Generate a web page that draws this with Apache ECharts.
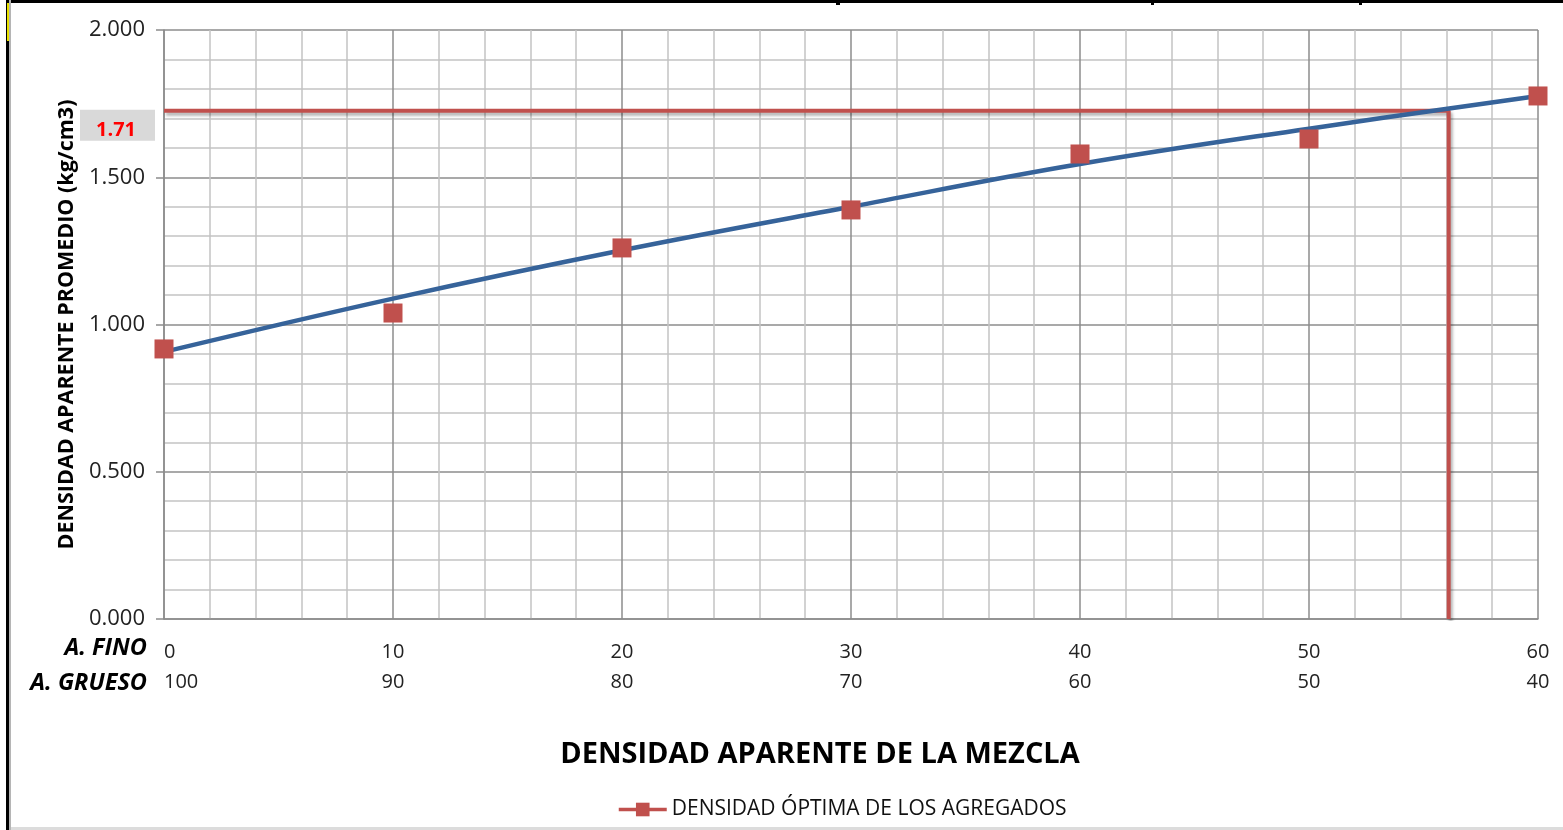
<!DOCTYPE html>
<html>
<head>
<meta charset="utf-8">
<script src="https://cdn.jsdelivr.net/npm/echarts@6/dist/echarts.min.js"></script>
<style>
  html, body { margin: 0; padding: 0; background: #fff; }
  #chart { width: 1563px; height: 830px; }
</style>
</head>
<body>
<div id="chart"></div>
<script>
// porcentajes de la mezcla (eje x, dos filas)
const finoPct = [0, 10, 20, 30, 40, 50, 60]
const gruesoPct = [100, 90, 80, 70, 60, 50, 40]
// densidad aparente promedio medida (kg/cm3)
const densidad = [0.917, 1.039, 1.260, 1.389, 1.579, 1.630, 1.776]
// linea de tendencia (polinomica)
const trendX = [0, 10, 20, 30, 40, 50, 60]
const trendY = [0.907, 1.088, 1.252, 1.400, 1.545, 1.665, 1.776]
// punto optimo
const optimoFino = 56.1
const optimoDens = 1.726
const optimoLabel = '1.71'

const FONT = '"Open Sans", sans-serif'
const RED = '#c0504d'

const chart = echarts.init(document.getElementById('chart'))

const puntos = finoPct.map((x, i) => [x, densidad[i]])
const tendencia = trendX.map((x, i) => [x, trendY[i]])
const optimo = [[0, optimoDens], [optimoFino, optimoDens], [optimoFino, 0]]

chart.setOption({
  animation: false,
  textStyle: { fontFamily: FONT },
  grid: { left: 164, right: 25, top: 30, bottom: 211 },
  title: {
    text: 'DENSIDAD APARENTE DE LA MEZCLA',
    left: 815,
    textAlign: 'center',
    top: 735,
    textStyle: { fontFamily: FONT, fontSize: 29, fontWeight: 'bold', color: '#000' }
  },
  legend: {
    left: 612,
    top: 794,
    itemWidth: 48,
    itemHeight: 17,
    itemGap: 6,
    textStyle: { fontFamily: FONT, fontSize: 21, color: '#111' },
    data: [{
      name: 'DENSIDAD ÓPTIMA DE LOS AGREGADOS',
      lineStyle: { width: 3.5, color: RED, opacity: 1 }
    }]
  },
  xAxis: {
    type: 'value',
    min: 0,
    max: 60,
    interval: 10,
    axisLine: { show: true, lineStyle: { color: '#8c8c8c', width: 1.5 } },
    axisTick: { show: false },
    minorTick: { show: false, splitNumber: 5 },
    splitLine: { show: true, lineStyle: { color: '#8c8c8c', width: 1.5 } },
    minorSplitLine: { show: true, lineStyle: { color: '#c4c4c4', width: 1.5 } },
    axisLabel: {
      margin: 18,
      fontSize: 20,
      lineHeight: 30,
      color: '#222',
      alignMinLabel: 'left',
      formatter: function (v) {
        const i = finoPct.indexOf(v)
        return i < 0 ? '' : finoPct[i] + '\n' + gruesoPct[i]
      }
    }
  },
  yAxis: {
    type: 'value',
    min: 0,
    max: 2,
    interval: 0.5,
    name: 'DENSIDAD APARENTE PROMEDIO (kg/cm3)',
    nameLocation: 'middle',
    nameGap: 86,
    nameTextStyle: { fontFamily: FONT, fontSize: 21.5, fontWeight: 'bold', color: '#000' },
    axisLine: { show: true, lineStyle: { color: '#8c8c8c', width: 1.5 } },
    axisTick: { show: true, length: 8, lineStyle: { color: '#8c8c8c', width: 1.5 } },
    minorTick: { show: false, splitNumber: 5 },
    splitLine: { show: true, lineStyle: { color: '#8c8c8c', width: 1.5 } },
    minorSplitLine: { show: true, lineStyle: { color: '#c4c4c4', width: 1.5 } },
    axisLabel: {
      margin: 19,
      fontSize: 22,
      color: '#222',
      formatter: v => v.toFixed(3)
    }
  },
  series: [
    {
      name: 'optimo',
      type: 'line',
      data: optimo,
      symbol: 'none',
      z: 2,
      lineStyle: {
        color: RED,
        width: 4,
        shadowColor: 'rgba(0,0,0,0.3)',
        shadowBlur: 3,
        shadowOffsetX: 2,
        shadowOffsetY: 3
      }
    },
    {
      name: 'tendencia',
      type: 'line',
      data: tendencia,
      smooth: 0.4,
      symbol: 'none',
      z: 3,
      lineStyle: { color: '#36639a', width: 4.5 }
    },
    {
      name: 'DENSIDAD ÓPTIMA DE LOS AGREGADOS',
      type: 'line',
      data: puntos,
      symbol: 'rect',
      symbolSize: 19,
      z: 4,
      itemStyle: { color: RED },
      lineStyle: { width: 0, opacity: 0, color: RED }
    }
  ]
})

const p = chart.convertToPixel({ gridIndex: 0 }, [0, optimoDens])
chart.setOption({
  graphic: [
    { type: 'rect', shape: { x: 80, y: p[1] - 1, width: 75, height: 31 }, style: { fill: '#d9d9d9' }, z: 1 },
    {
      type: 'text', x: 116, y: p[1] + 20, z: 2,
      style: { text: optimoLabel, fill: '#ff0000', font: 'bold 20px ' + FONT, align: 'center', verticalAlign: 'middle' }
    },
    {
      type: 'text', x: 147, y: 648,
      style: { text: 'A. FINO', fill: '#000', font: 'italic bold 23.5px ' + FONT, align: 'right', verticalAlign: 'middle' }
    },
    {
      type: 'text', x: 147, y: 683,
      style: { text: 'A. GRUESO', fill: '#000', font: 'italic bold 23.5px ' + FONT, align: 'right', verticalAlign: 'middle' }
    },
    // marco de la hoja
    { type: 'rect', shape: { x: 8, y: 0, width: 1555, height: 3 }, style: { fill: '#000' } },
    { type: 'rect', shape: { x: 836, y: 0, width: 4, height: 5 }, style: { fill: '#000' } },
    { type: 'rect', shape: { x: 1151, y: 0, width: 3, height: 5 }, style: { fill: '#000' } },
    { type: 'rect', shape: { x: 1359, y: 0, width: 3, height: 5 }, style: { fill: '#000' } },
    { type: 'rect', shape: { x: 6, y: 0, width: 3, height: 830 }, style: { fill: '#000' } },
    { type: 'rect', shape: { x: 9, y: 0, width: 2, height: 830 }, style: { fill: '#b5b5b5' } },
    { type: 'rect', shape: { x: 7, y: 3, width: 2, height: 38 }, style: { fill: '#e8e000' } },
    { type: 'rect', shape: { x: 11, y: 827, width: 1552, height: 3 }, style: { fill: '#dcdcdc' } }
  ]
})
</script>
</body>
</html>
